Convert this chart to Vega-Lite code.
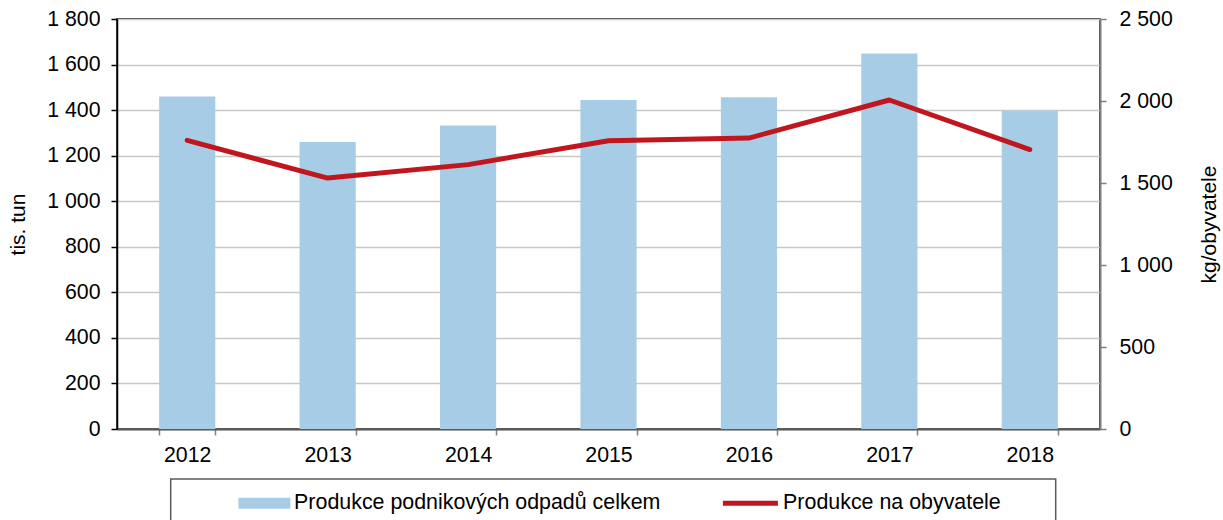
{
  "$schema": "https://vega.github.io/schema/vega-lite/v6.json",
  "width": 983,
  "height": 410,
  "autosize": {"type": "none"},
  "padding": {"left": 117, "top": 19, "right": 123, "bottom": 91},
  "background": "white",
  "config": {
    "font": "Liberation Sans",
    "view": {"stroke": "#000000", "strokeWidth": 1.5},
    "axis": {"labelColor": "#000000", "titleColor": "#000000", "labelFontSize": 21.3, "titleFontSize": 21, "titleFontWeight": "normal", "labelFont": "Liberation Sans", "titleFont": "Liberation Sans"},
    "legend": {"labelFont": "Liberation Sans"}
  },
  "data": {
    "values": [
      {"year": "2012", "total": 1460, "perCapita": 1760},
      {"year": "2013", "total": 1260, "perCapita": 1530},
      {"year": "2014", "total": 1332, "perCapita": 1612},
      {"year": "2015", "total": 1444, "perCapita": 1758},
      {"year": "2016", "total": 1456, "perCapita": 1774},
      {"year": "2017", "total": 1648, "perCapita": 2006},
      {"year": "2018", "total": 1397, "perCapita": 1704}
    ]
  },
  "encoding": {
    "x": {
      "field": "year",
      "type": "ordinal",
      "scale": {"paddingInner": 0.6, "paddingOuter": 0.3},
      "axis": {
        "title": null,
        "labelAngle": 0,
        "tickBand": "extent",
        "domainColor": "#595959",
        "domainWidth": 2,
        "tickColor": "#808080",
        "tickWidth": 1.5,
        "tickSize": 6,
        "labelPadding": 9,
        "grid": false
      }
    }
  },
  "layer": [
    {
      "mark": {"type": "bar", "color": "#a7cde6"},
      "encoding": {
        "y": {
          "field": "total",
          "type": "quantitative",
          "scale": {"domain": [0, 1800]},
          "axis": {
            "title": "tis. tun",
            "values": [0, 200, 400, 600, 800, 1000, 1200, 1400, 1600, 1800],
            "labelExpr": "replace(format(datum.value, ','), ',', ' ')",
            "grid": true,
            "gridColor": "#c8c8c8",
            "gridWidth": 1.5,
            "domainColor": "#000000",
            "domainWidth": 1.5,
            "tickColor": "#000000",
            "tickWidth": 1.5,
            "tickSize": 6,
            "labelPadding": 11,
            "titlePadding": 18
          }
        },
        "fill": {
          "datum": "Produkce podnikových odpadů celkem",
          "type": "nominal",
          "scale": {"domain": ["Produkce podnikových odpadů celkem", "Produkce na obyvatele"], "range": ["#a7cde6", "#c0171f"]},
          "legend": {
            "orient": "none",
            "legendX": 53.7,
            "legendY": 460,
            "direction": "horizontal",
            "columns": 2,
            "columnPadding": 12,
            "padding": 13,
            "title": null,
            "strokeColor": "#595959",
            "labelFontSize": 21.4,
            "labelColor": "#000000",
            "labelOffset": 89,
            "labelLimit": 0,
            "symbolSize": 144,
            "symbolStrokeWidth": 0,
            "encode": {
              "legend": {"update": {"strokeWidth": {"value": 1.5}}},
              "symbols": {
                "update": {
                  "shape": {"signal": "datum.value == 'Produkce na obyvatele' ? 'M6.58,0H15.75M58.07,0h0' : 'M7.33,-0.92H16V0.92H7.33Z'"},
                  "fill": {"signal": "datum.value == 'Produkce na obyvatele' ? 'transparent' : '#a7cde6'"},
                  "stroke": {"signal": "datum.value == 'Produkce na obyvatele' ? '#c0171f' : 'transparent'"},
                  "strokeWidth": {"signal": "datum.value == 'Produkce na obyvatele' ? 5 : 0"},
                  "strokeCap": {"value": "butt"},
                  "opacity": {"value": 1}
                }
              }
            }
          }
        }
      }
    },
    {
      "mark": {"type": "line", "strokeWidth": 5, "strokeCap": "round", "strokeJoin": "round"},
      "encoding": {
        "y": {
          "field": "perCapita",
          "type": "quantitative",
          "scale": {"domain": [0, 2500]},
          "axis": {
            "orient": "right",
            "title": "kg/obyvatele",
            "titleAngle": 270,
            "titleBaseline": "top",
            "values": [0, 500, 1000, 1500, 2000, 2500],
            "labelExpr": "replace(format(datum.value, ','), ',', ' ')",
            "grid": false,
            "domainColor": "#808080",
            "domainWidth": 2,
            "tickColor": "#808080",
            "tickWidth": 1.5,
            "tickSize": 6,
            "labelPadding": 13,
            "titlePadding": 26
          }
        },
        "stroke": {
          "datum": "Produkce na obyvatele",
          "type": "nominal",
          "scale": {"domain": ["Produkce podnikových odpadů celkem", "Produkce na obyvatele"], "range": ["#a7cde6", "#c0171f"]},
          "legend": null
        }
      }
    }
  ],
  "resolve": {"scale": {"y": "independent"}}
}
